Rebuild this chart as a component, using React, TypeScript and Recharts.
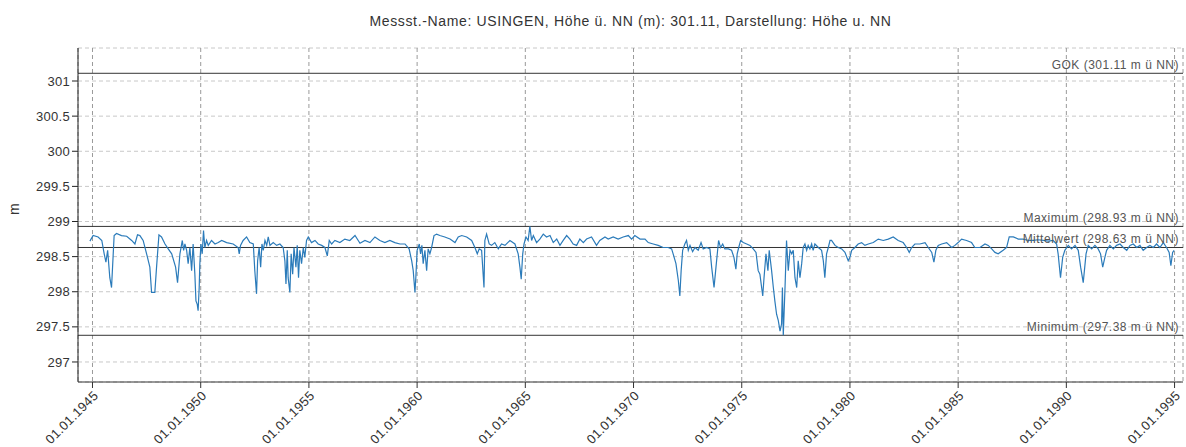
import React from 'react';
import { LineChart, Line, XAxis, YAxis, CartesianGrid, ReferenceLine } from 'recharts';

const TITLE = 'Messst.-Name: USINGEN, Höhe ü. NN (m): 301.11, Darstellung: Höhe u. NN';
const Y_LABEL = 'm';

const xTicks = [1945, 1950, 1955, 1960, 1965, 1970, 1975, 1980, 1985, 1990, 1995];
const yTicks = [297, 297.5, 298, 298.5, 299, 299.5, 300, 300.5, 301];

const refValues = [301.11, 298.93, 298.63, 297.38];
const refLabels = ['GOK (301.11 m ü NN)', 'Maximum (298.93 m ü NN)', 'Mittelwert (298.63 m ü NN)', 'Minimum (297.38 m ü NN)'];

const dates = [
  1944.88, 1945.03, 1945.26, 1945.43, 1945.54, 1945.62, 1945.70, 1945.80, 1945.88, 1946.00,
  1946.11, 1946.34, 1946.58, 1946.81, 1946.96, 1947.08, 1947.19, 1947.34, 1947.50, 1947.65,
  1947.73, 1947.88, 1947.96, 1948.07, 1948.19, 1948.35, 1948.50, 1948.66, 1948.84, 1948.93,
  1949.04, 1949.15, 1949.21, 1949.27, 1949.35, 1949.42, 1949.50, 1949.58, 1949.65, 1949.73,
  1949.78, 1949.84, 1949.88, 1949.93, 1949.96, 1950.01, 1950.07, 1950.13, 1950.19, 1950.27,
  1950.35, 1950.50, 1950.66, 1950.81, 1950.97, 1951.20, 1951.50, 1951.73, 1951.78, 1951.84,
  1951.96, 1952.12, 1952.27, 1952.43, 1952.50, 1952.58, 1952.63, 1952.70, 1952.77, 1952.83,
  1952.89, 1952.97, 1953.05, 1953.12, 1953.20, 1953.35, 1953.51, 1953.66, 1953.81, 1953.89,
  1953.94, 1954.00, 1954.04, 1954.12, 1954.18, 1954.25, 1954.31, 1954.40, 1954.46, 1954.52,
  1954.58, 1954.66, 1954.74, 1954.81, 1954.89, 1954.97, 1955.12, 1955.28, 1955.43, 1955.59,
  1955.74, 1955.85, 1955.94, 1956.05, 1956.20, 1956.43, 1956.66, 1956.89, 1957.13, 1957.36,
  1957.59, 1957.82, 1958.05, 1958.28, 1958.51, 1958.74, 1958.97, 1959.21, 1959.44, 1959.63,
  1959.75, 1959.82, 1959.90, 1959.94, 1960.00, 1960.10, 1960.16, 1960.22, 1960.28, 1960.36,
  1960.44, 1960.51, 1960.59, 1960.67, 1960.78, 1960.90, 1961.05, 1961.28, 1961.52, 1961.75,
  1961.90, 1962.06, 1962.29, 1962.52, 1962.67, 1962.78, 1962.87, 1962.98, 1963.09, 1963.13,
  1963.21, 1963.33, 1963.44, 1963.59, 1963.75, 1963.90, 1964.06, 1964.29, 1964.52, 1964.67,
  1964.75, 1964.81, 1964.88, 1964.94, 1965.03, 1965.13, 1965.21, 1965.29, 1965.37, 1965.52,
  1965.67, 1965.83, 1965.98, 1966.14, 1966.29, 1966.45, 1966.60, 1966.75, 1966.91, 1967.06,
  1967.21, 1967.37, 1967.52, 1967.68, 1967.83, 1968.06, 1968.29, 1968.44, 1968.68, 1968.83,
  1969.06, 1969.29, 1969.52, 1969.76, 1969.91, 1970.06, 1970.30, 1970.53, 1970.68, 1970.91,
  1971.14, 1971.37, 1971.60, 1971.76, 1971.83, 1971.96, 1972.07, 1972.14, 1972.20, 1972.27,
  1972.37, 1972.45, 1972.53, 1972.61, 1972.73, 1972.84, 1972.99, 1973.12, 1973.22, 1973.38,
  1973.53, 1973.61, 1973.72, 1973.81, 1973.87, 1973.93, 1974.02, 1974.12, 1974.22, 1974.38,
  1974.53, 1974.64, 1974.73, 1974.79, 1974.86, 1974.95, 1975.07, 1975.23, 1975.38, 1975.53,
  1975.66, 1975.76, 1975.84, 1975.97, 1976.03, 1976.12, 1976.21, 1976.27, 1976.38, 1976.46,
  1976.53, 1976.61, 1976.69, 1976.77, 1976.84, 1976.88, 1976.92, 1977.00, 1977.07, 1977.15,
  1977.23, 1977.31, 1977.38, 1977.46, 1977.54, 1977.61, 1977.69, 1977.77, 1977.84, 1977.92,
  1978.00, 1978.07, 1978.15, 1978.23, 1978.30, 1978.38, 1978.54, 1978.69, 1978.77, 1978.84,
  1978.92, 1979.00, 1979.08, 1979.15, 1979.31, 1979.46, 1979.62, 1979.77, 1979.92, 1980.00,
  1980.08, 1980.23, 1980.38, 1980.54, 1980.69, 1980.85, 1981.08, 1981.31, 1981.54, 1981.77,
  1982.00, 1982.23, 1982.46, 1982.62, 1982.74, 1982.85, 1983.00, 1983.23, 1983.47, 1983.62,
  1983.78, 1983.88, 1983.97, 1984.08, 1984.24, 1984.47, 1984.70, 1984.85, 1985.00, 1985.16,
  1985.39, 1985.62, 1985.77, 1986.01, 1986.24, 1986.39, 1986.55, 1986.70, 1986.85, 1987.08,
  1987.24, 1987.36, 1987.55, 1987.78, 1988.01, 1988.24, 1988.47, 1988.70, 1988.93, 1989.16,
  1989.39, 1989.55, 1989.62, 1989.73, 1989.83, 1989.93, 1990.09, 1990.24, 1990.40, 1990.55,
  1990.66, 1990.78, 1990.91, 1991.01, 1991.17, 1991.32, 1991.47, 1991.58, 1991.68, 1991.78,
  1991.86, 1992.01, 1992.17, 1992.32, 1992.48, 1992.63, 1992.79, 1992.94, 1993.09, 1993.25,
  1993.40, 1993.55, 1993.71, 1993.86, 1994.02, 1994.17, 1994.32, 1994.48, 1994.63, 1994.75,
  1994.83, 1994.91, 1994.98,
];

const levels = [
  298.72, 298.80, 298.78, 298.73, 298.54, 298.42, 298.59, 298.20, 298.06, 298.80,
  298.83, 298.80, 298.79, 298.73, 298.68, 298.81, 298.80, 298.73, 298.54, 298.35,
  297.99, 297.99, 298.35, 298.81, 298.78, 298.68, 298.61, 298.54, 298.35, 298.13,
  298.54, 298.73, 298.59, 298.68, 298.59, 298.40, 298.63, 298.30, 298.68, 298.25,
  297.87, 297.82, 297.73, 298.06, 298.40, 298.68, 298.54, 298.87, 298.63, 298.73,
  298.66, 298.73, 298.68, 298.70, 298.73, 298.70, 298.68, 298.63, 298.54, 298.66,
  298.73, 298.78, 298.70, 298.68, 298.30, 297.97, 298.44, 298.63, 298.35, 298.68,
  298.59, 298.73, 298.66, 298.78, 298.66, 298.70, 298.66, 298.68, 298.63, 298.44,
  298.11, 298.59, 298.20, 297.99, 298.54, 298.25, 298.63, 298.35, 298.66, 298.20,
  298.59, 298.40, 298.63, 298.49, 298.73, 298.78, 298.70, 298.73, 298.68, 298.66,
  298.63, 298.51, 298.73, 298.68, 298.73, 298.70, 298.75, 298.73, 298.80, 298.69,
  298.73, 298.70, 298.78, 298.73, 298.70, 298.73, 298.70, 298.68, 298.68, 298.61,
  298.44, 298.30, 297.99, 298.20, 298.59, 298.68, 298.54, 298.66, 298.40, 298.59,
  298.30, 298.61, 298.54, 298.63, 298.80, 298.82, 298.80, 298.78, 298.75, 298.70,
  298.78, 298.80, 298.78, 298.73, 298.63, 298.54, 298.61, 298.59, 298.06, 298.73,
  298.82, 298.68, 298.66, 298.70, 298.61, 298.68, 298.66, 298.73, 298.68, 298.54,
  298.35, 298.18, 298.54, 298.68, 298.78, 298.73, 298.93, 298.73, 298.80, 298.70,
  298.75, 298.82, 298.78, 298.80, 298.70, 298.75, 298.66, 298.73, 298.80, 298.75,
  298.68, 298.66, 298.75, 298.70, 298.75, 298.78, 298.66, 298.73, 298.78, 298.75,
  298.78, 298.75, 298.78, 298.80, 298.75, 298.80, 298.75, 298.75, 298.70, 298.68,
  298.66, 298.63, 298.63, 298.61, 298.54, 298.40, 298.16, 297.94, 298.30, 298.59,
  298.68, 298.73, 298.59, 298.66, 298.57, 298.63, 298.59, 298.70, 298.61, 298.63,
  298.61, 298.35, 298.06, 298.35, 298.54, 298.73, 298.63, 298.68, 298.61, 298.61,
  298.59, 298.49, 298.32, 298.54, 298.63, 298.73, 298.70, 298.68, 298.66, 298.61,
  298.56, 298.30, 298.25, 297.94, 298.20, 298.54, 298.30, 298.59, 298.30, 298.06,
  297.87, 297.68, 297.59, 297.44, 297.54, 298.06, 297.38, 298.06, 298.73, 298.30,
  298.59, 298.54, 298.59, 298.20, 298.06, 298.44, 298.20, 298.40, 298.63, 298.68,
  298.59, 298.66, 298.61, 298.68, 298.59, 298.68, 298.63, 298.59, 298.44, 298.20,
  298.54, 298.63, 298.73, 298.73, 298.66, 298.63, 298.61, 298.56, 298.44, 298.49,
  298.59, 298.63, 298.68, 298.70, 298.66, 298.68, 298.70, 298.75, 298.73, 298.75,
  298.78, 298.73, 298.70, 298.63, 298.56, 298.63, 298.68, 298.68, 298.70, 298.63,
  298.56, 298.42, 298.59, 298.66, 298.68, 298.70, 298.63, 298.66, 298.70, 298.75,
  298.73, 298.70, 298.63, 298.63, 298.68, 298.66, 298.61, 298.56, 298.54, 298.59,
  298.63, 298.78, 298.78, 298.75, 298.75, 298.73, 298.73, 298.74, 298.73, 298.72,
  298.73, 298.68, 298.54, 298.20, 298.49, 298.59, 298.66, 298.61, 298.66, 298.59,
  298.35, 298.13, 298.54, 298.66, 298.61, 298.66, 298.61, 298.54, 298.35, 298.49,
  298.59, 298.66, 298.61, 298.66, 298.68, 298.63, 298.59, 298.66, 298.68, 298.63,
  298.66, 298.59, 298.63, 298.66, 298.63, 298.68, 298.63, 298.70, 298.63, 298.56,
  298.37, 298.56, 298.59,
];

const data = dates.map((t, i) => ({ t, v: levels[i] }));

const FONT = '"Liberation Sans", Arial, sans-serif';

export default function App() {
  return (
    <div style={{ position: 'relative', width: 1186, height: 447, fontFamily: FONT }}>
      <style>{'body{margin:0}'}</style>
      <div
        style={{
          position: 'absolute',
          left: 78,
          width: 1105,
          top: 13,
          textAlign: 'center',
          fontSize: 14,
          letterSpacing: '0.65px',
          color: '#333',
          fontFamily: FONT,
        }}
      >
        {TITLE}
      </div>
      <LineChart width={1186} height={447} data={data} margin={{ top: 48, right: 3, bottom: 5, left: 0 }}>
        <CartesianGrid horizontal={true} vertical={false} stroke="#c8c8c8" strokeDasharray="4 3" />
        <CartesianGrid horizontal={false} vertical={true} stroke="#9a9a9a" strokeDasharray="4 3" />
        <XAxis
          dataKey="t"
          type="number"
          domain={[1944.33, 1995.39]}
          ticks={xTicks}
          allowDataOverflow
          tickFormatter={(y: number) => `01.01.${Math.round(y)}`}
          angle={-45}
          textAnchor="end"
          height={60}
          tickSize={6}
          tick={{ fontSize: 13, fill: '#333', fontFamily: FONT, letterSpacing: '0.3px' }}
          stroke="#333"
          interval={0}
        />
        <YAxis
          type="number"
          domain={[296.715, 301.47]}
          ticks={yTicks}
          allowDataOverflow
          width={78}
          tickSize={6}
          tickFormatter={(v: number) => String(v)}
          tick={{ fontSize: 13, fill: '#333', fontFamily: FONT, letterSpacing: '0.3px' }}
          stroke="#222"
          interval={0}
          label={{ value: Y_LABEL, angle: -90, position: 'insideLeft', offset: 14, style: { fontSize: 14, fill: '#333', fontFamily: FONT } }}
        />
        {refValues.map((val, i) => (
          <ReferenceLine
            key={refLabels[i]}
            y={val}
            stroke="#333"
            strokeWidth={1}
            ifOverflow="extendDomain"
            label={{ value: refLabels[i], position: 'insideBottomRight', offset: 4, style: { fontSize: 12, fill: '#555', fontFamily: FONT, letterSpacing: '0.5px' } }}
          />
        ))}
        <Line
          type="linear"
          dataKey="v"
          stroke="#2b7bba"
          strokeWidth={1.2}
          dot={false}
          isAnimationActive={false}
        />
      </LineChart>
    </div>
  );
}
